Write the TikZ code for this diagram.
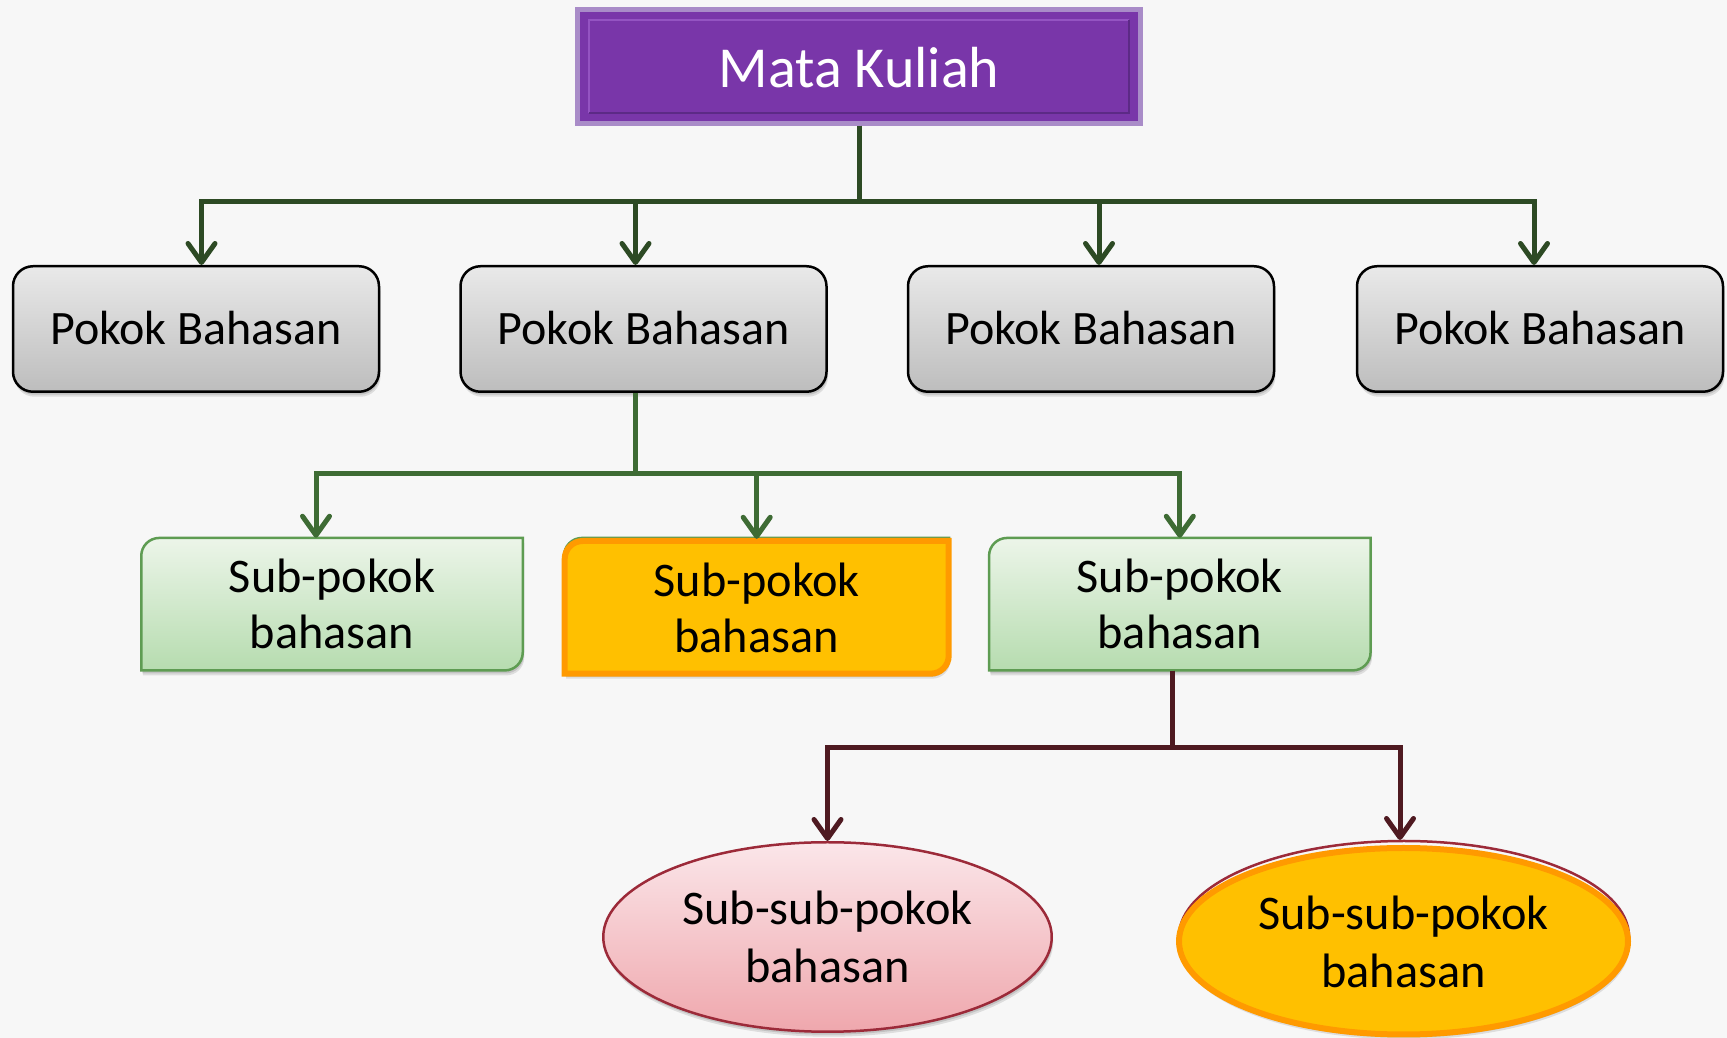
\documentclass[tikz,border=0pt]{standalone}
\usepackage{fontspec}
\setmainfont{Carlito}
\usetikzlibrary{arrows.meta,shadows,shapes.geometric}
\definecolor{bgc}{HTML}{F7F7F7}
\definecolor{mkpurple}{HTML}{7936A9}
\definecolor{mklav}{HTML}{A98CC8}
\definecolor{mkbevtop}{HTML}{9454C2}
\definecolor{mkbevbot}{HTML}{5C2A86}
\definecolor{lineA}{HTML}{2D4A24}
\definecolor{lineB}{HTML}{3E6B34}
\definecolor{lineC}{HTML}{4F1A21}
\definecolor{pbtop}{HTML}{E9E9E9}
\definecolor{pbbot}{HTML}{BDBDBD}
\definecolor{gtop}{HTML}{ECF5E9}
\definecolor{gbot}{HTML}{B6DCAF}
\definecolor{gline}{HTML}{5E9C52}
\definecolor{ofill}{HTML}{FFC000}
\definecolor{oline}{HTML}{FF9A00}
\definecolor{ptop}{HTML}{FBE6E9}
\definecolor{pbot}{HTML}{EFA7AD}
\definecolor{pline}{HTML}{9C2A39}
\newcommand{\subshape}[5]{\path[#1] (#4,#5) -- (#4,#3+18) arc[start angle=0,end angle=-90,radius=18] -- (#2,#3) -- (#2,#5-18) arc[start angle=180,end angle=90,radius=18] -- cycle;}
\begin{document}
\begin{tikzpicture}[x=1pt,y=1pt,
  every node/.style={inner sep=0pt},
  softshadow/.style={drop shadow={shadow xshift=1.5pt, shadow yshift=-5pt, opacity=0.10, fill=black},
                     drop shadow={shadow xshift=1pt, shadow yshift=-3pt, opacity=0.12, fill=black}},
  mkbox/.style={rectangle, fill=mkpurple, draw=mklav, line width=5pt, minimum width=563pt, minimum height=114pt, text=white, font=\fontsize{58}{68}\selectfont, text height=41.4pt, text depth=0pt},
  pbox/.style={rectangle, rounded corners=20pt, top color=pbtop, bottom color=pbbot, draw=black, line width=2.5pt, minimum width=366pt, minimum height=125.5pt, font=\fontsize{48}{56}\selectfont, text height=31pt, text depth=0pt, softshadow},
  sbox/.style={rectangle, minimum width=381.5pt, minimum height=132.5pt, align=center, font=\fontsize{48.3}{56}\selectfont, text height=89pt, text depth=0pt},
  obox/.style={sbox, minimum width=384pt, minimum height=132.7pt, text height=90pt},
  gshape/.style={top color=gtop, bottom color=gbot, draw=gline, line width=2.5pt, softshadow},
  gedge/.style={draw=gline, line width=2.5pt},
  oshape/.style={fill=ofill, draw=oline, line width=6pt, softshadow},
  ebox/.style={ellipse, minimum width=448.5pt, minimum height=189.5pt, align=center, font=\fontsize{48.3}{58}\selectfont, text height=91pt, text depth=0pt},
  pell/.style={ebox, top color=ptop, bottom color=pbot, draw=pline, line width=2.5pt, softshadow},
  oell/.style={ebox, fill=ofill, draw=oline, line width=6pt, minimum width=449pt, minimum height=186.5pt, text height=92pt, softshadow},
  tipstyle/.style={-{Straight Barb[length=19pt,width=27pt,round]}},
  conA/.style={draw=lineA, line width=5pt, tipstyle},
  conB/.style={draw=lineB, line width=5pt, tipstyle},
  conC/.style={draw=lineC, line width=5pt, tipstyle}
]
\fill[bgc] (0,0) rectangle (1727,1038);
\useasboundingbox (0,0) rectangle (1727,1038);

% top
\node[mkbox] (mk) at (859,971.5) {Mata Kuliah};
\draw[mkbevtop, line width=1.5pt] ([shift={(14,13)}]mk.south west) -- ([shift={(14,-13)}]mk.north west) -- ([shift={(-14,-13)}]mk.north east);
\draw[mkbevbot, line width=1.5pt] ([shift={(14,13)}]mk.south west) -- ([shift={(-14,13)}]mk.south east) -- ([shift={(-14,-13)}]mk.north east);

% level 1
\node[pbox] (pb1) at (196,709) {Pokok Bahasan};
\node[pbox] (pb2) at (643.5,709) {Pokok Bahasan};
\node[pbox] (pb3) at (1091,709) {Pokok Bahasan};
\node[pbox] (pb4) at (1540,709) {Pokok Bahasan};

% level 2 shapes
\subshape{gshape}{141.25}{367.55}{522.75}{500.05}
\subshape{gedge}{564}{366}{949}{500.05}
\subshape{oshape}{564.7}{364.3}{948.7}{497}
\subshape{gshape}{989.05}{367.55}{1370.55}{500.05}
\node[sbox] (g1) at (332,433.8) {Sub-pokok\\bahasan};
\node[obox] (o1) at (756.7,430.65) {Sub-pokok\\bahasan};
\node[sbox] (g3) at (1179.8,433.8) {Sub-pokok\\bahasan};

% level 3
\node[pell] (e1) at (827.5,101) {Sub-sub-pokok\\bahasan};
\draw[pline, line width=2.5pt] (1404,101.5) ellipse[x radius=225, y radius=95.5];
\node[oell] (e2) at (1403.5,96.75) {Sub-sub-pokok\\bahasan};

% connectors
\coordinate (bus1) at (859,836.5);
\draw[conA] (mk.south) -- (bus1) -| ([xshift=5.5pt]pb1.north);
\draw[conA] (mk.south) -- (bus1) -| ([xshift=-8pt]pb2.north);
\draw[conA] (mk.south) -- (bus1) -| ([xshift=8pt]pb3.north);
\draw[conA] (mk.south) -- (bus1) -| ([xshift=-6pt]pb4.north);

\coordinate (bus2) at (635.5,564.4);
\draw[conB] ([xshift=-8pt]pb2.south) -- (bus2) -| ([xshift=-16pt]g1.north);
\draw[conB] ([xshift=-8pt]pb2.south) -- (bus2) -| ([yshift=2pt]o1.north);
\draw[conB] ([xshift=-8pt]pb2.south) -- (bus2) -| (g3.north);

\coordinate (bus3) at (1172.5,290.3);
\draw[conC] ([xshift=-7.3pt]g3.south) -- (bus3) -| (e1.north);
\draw[conC] ([xshift=-7.3pt]g3.south) -- (bus3) -| ([xshift=-3.5pt,yshift=5pt]e2.north);
\end{tikzpicture}
\end{document}
